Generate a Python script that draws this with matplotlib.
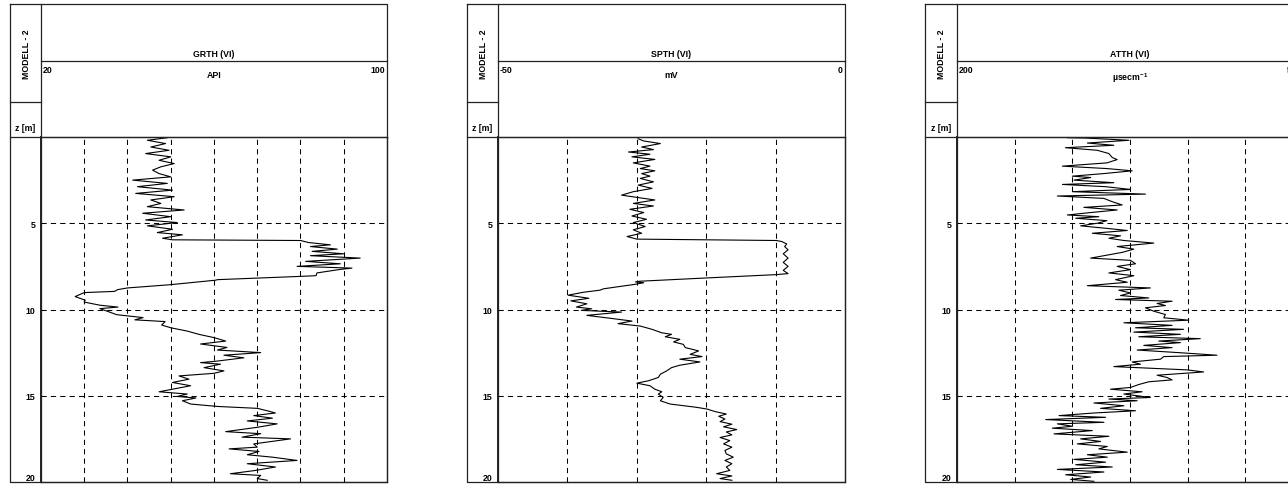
import numpy as np
import matplotlib
matplotlib.use("Agg")
import matplotlib.pyplot as plt

plt.rcParams['font.family'] = ['Liberation Sans', 'DejaVu Sans']
plt.rcParams['font.weight'] = 'bold'
plt.rcParams['mathtext.default'] = 'regular'

### log data (depth in m)

model_name = "MODELL - 2"
depth_label = "z [m]"
depth_ticks = [5, 10, 15, 20]

# gamma ray
grth_title = "GRTH (VI)"
grth_unit = "API"
grth_scale = [20, 100]
grth_depth = [0.04, 0.19, 0.38, 0.58, 0.77, 0.96, 1.15, 1.35, 1.54, 1.73,
              1.92, 2.12, 2.31, 2.50, 2.69, 2.88, 3.08, 3.27, 3.46, 3.65,
              3.85, 4.04, 4.23, 4.42, 4.62, 4.81, 4.96, 5.15, 5.35, 5.54,
              5.67, 5.87, 5.96, 6.00, 6.12, 6.25, 6.35, 6.50, 6.63, 6.77,
              6.88, 7.02, 7.21, 7.35, 7.50, 7.60, 7.69, 7.88, 8.04, 8.08,
              8.27, 8.30, 8.56, 8.75, 8.85, 8.95, 9.02, 9.25, 9.46, 9.57,
              9.75, 9.86, 9.95, 10.09, 10.30, 10.47, 10.60, 10.70, 10.90, 11.06,
              11.25, 11.44, 11.63, 11.83, 12.00, 12.20, 12.35, 12.50, 12.65, 12.80,
              13.00, 13.08, 13.17, 13.37, 13.56, 13.70, 13.85, 14.04, 14.23, 14.42,
              14.62, 14.77, 14.90, 15.04, 15.13, 15.29, 15.48, 15.62, 15.73, 15.87,
              16.00, 16.15, 16.30, 16.46, 16.63, 16.83, 17.08, 17.20, 17.40, 17.50,
              17.79, 17.98, 18.08, 18.23, 18.42, 18.56, 18.75, 18.94, 19.13, 19.33,
              19.52, 19.62, 19.80, 19.90]
grth_api = [49.2, 44.6, 48.8, 45.4, 49.6, 44.2, 50.0, 47.3, 50.8, 47.7,
            45.8, 47.3, 50.0, 41.2, 49.2, 42.3, 50.4, 41.9, 50.8, 45.4,
            47.7, 44.6, 53.1, 43.5, 50.0, 44.2, 51.5, 44.6, 50.4, 46.9,
            52.7, 48.1, 50.4, 80.0, 81.9, 86.9, 82.3, 88.5, 82.7, 90.0,
            82.3, 93.8, 81.2, 89.2, 79.2, 91.9, 88.8, 83.8, 83.6, 80.0,
            60.8, 60.4, 50.0, 40.0, 37.7, 37.0, 30.0, 27.9, 30.2, 30.0,
            33.6, 37.8, 33.6, 35.2, 37.5, 43.6, 41.7, 48.7, 47.9, 50.0,
            53.8, 56.5, 60.0, 62.7, 56.9, 63.0, 60.8, 70.8, 62.3, 66.9,
            60.4, 56.9, 61.5, 57.7, 62.3, 60.0, 51.9, 54.2, 50.4, 54.6,
            50.4, 47.3, 53.8, 51.5, 55.8, 52.7, 54.6, 60.8, 70.0, 72.3,
            74.2, 69.2, 73.5, 67.7, 74.6, 70.0, 62.7, 70.8, 66.5, 77.7,
            69.2, 70.0, 63.5, 70.4, 67.7, 73.5, 79.2, 67.7, 74.2, 69.6,
            63.8, 70.8, 70.0, 72.3]

# self potential
spth_title = "SPTH (VI)"
spth_unit = "mV"
spth_scale = [-50, 0]
spth_depth = [0.10, 0.23, 0.38, 0.58, 0.73, 0.87, 1.00, 1.15, 1.30, 1.50,
              1.69, 1.83, 1.96, 2.12, 2.27, 2.40, 2.60, 2.79, 2.98, 3.17,
              3.37, 3.50, 3.65, 3.85, 4.00, 4.19, 4.38, 4.58, 4.77, 4.96,
              5.19, 5.38, 5.58, 5.77, 5.92, 6.00, 6.06, 6.20, 6.35, 6.54,
              6.77, 7.02, 7.27, 7.50, 7.73, 7.92, 7.98, 8.17, 8.36, 8.40,
              8.45, 8.55, 8.80, 8.88, 9.00, 9.17, 9.35, 9.50, 9.67, 9.86,
              9.96, 10.05, 10.15, 10.34, 10.53, 10.67, 10.82, 10.96, 11.15, 11.35,
              11.44, 11.58, 11.73, 11.88, 12.02, 12.21, 12.40, 12.60, 12.73, 12.88,
              13.04, 13.23, 13.37, 13.56, 13.75, 13.94, 14.13, 14.27, 14.42, 14.62,
              14.77, 14.90, 15.10, 15.29, 15.48, 15.67, 15.77, 15.92, 16.06, 16.19,
              16.35, 16.50, 16.65, 16.80, 16.96, 17.10, 17.27, 17.42, 17.60, 17.79,
              17.98, 18.17, 18.37, 18.56, 18.75, 18.94, 19.13, 19.33, 19.52, 19.65,
              19.80, 19.90]
spth_mv = [-29.8, -29.0, -26.6, -29.3, -27.6, -31.2, -28.1, -30.7, -27.4, -30.5,
           -28.1, -29.5, -27.4, -29.3, -28.1, -29.5, -27.6, -29.8, -27.8, -30.5,
           -32.2, -30.0, -27.4, -30.5, -27.6, -31.0, -29.0, -30.7, -28.6, -30.5,
           -28.8, -30.5, -29.3, -31.4, -30.0, -9.9, -9.1, -8.4, -8.7, -8.2,
           -8.9, -8.2, -8.9, -8.2, -8.9, -8.2, -10.0, -19.9, -29.5, -30.2,
           -29.0, -30.4, -34.8, -35.3, -37.7, -39.9, -36.9, -39.5, -37.2, -38.7,
           -36.5, -38.0, -32.2, -37.2, -33.4, -30.7, -32.7, -29.5, -27.8, -26.4,
           -25.0, -25.9, -23.8, -24.7, -23.3, -23.0, -21.1, -22.3, -20.6, -23.8,
           -20.9, -23.8, -25.0, -25.7, -26.6, -26.9, -28.3, -30.0, -28.1, -27.4,
           -26.4, -26.9, -26.2, -26.6, -25.2, -21.4, -19.9, -18.7, -17.1, -18.2,
           -17.3, -18.0, -16.3, -17.5, -15.6, -17.1, -16.3, -18.0, -16.6, -17.5,
           -16.3, -17.3, -17.1, -16.1, -17.3, -16.3, -17.1, -16.6, -18.5, -16.3,
           -18.0, -16.3]

# attenuation
atth_title = "ATTH (VI)"
atth_unit = "\u00b5secm$^{-1}$"
atth_scale = [200, 500]
atth_depth = [0.04, 0.06, 0.19, 0.35, 0.48, 0.62, 0.77, 0.96, 1.19, 1.31,
              1.50, 1.69, 1.83, 1.96, 2.12, 2.27, 2.35, 2.50, 2.65, 2.75,
              2.88, 3.04, 3.17, 3.31, 3.42, 3.56, 3.75, 3.94, 4.08, 4.23,
              4.38, 4.52, 4.62, 4.71, 4.85, 5.00, 5.15, 5.29, 5.42, 5.58,
              5.73, 5.87, 6.00, 6.15, 6.35, 6.50, 6.69, 7.02, 7.15, 7.35,
              7.50, 7.69, 7.88, 8.04, 8.27, 8.42, 8.62, 8.75, 8.88, 9.04,
              9.19, 9.33, 9.42, 9.52, 9.65, 9.77, 9.90, 10.10, 10.29, 10.48,
              10.62, 10.77, 10.92, 11.06, 11.15, 11.31, 11.44, 11.58, 11.69, 11.83,
              11.92, 12.08, 12.21, 12.35, 12.50, 12.65, 12.73, 12.88, 13.04, 13.17,
              13.31, 13.50, 13.62, 13.81, 13.94, 14.08, 14.19, 14.35, 14.52, 14.62,
              14.77, 14.90, 15.10, 15.19, 15.29, 15.42, 15.58, 15.73, 15.87, 16.00,
              16.15, 16.25, 16.38, 16.54, 16.63, 16.77, 16.88, 17.02, 17.21, 17.35,
              17.50, 17.65, 17.79, 17.94, 18.08, 18.27, 18.42, 18.56, 18.69, 18.85,
              19.00, 19.13, 19.27, 19.42, 19.58, 19.71, 19.85, 19.96]
atth_val = [295.7, 311.5, 349.0, 313.0, 336.0, 294.0, 321.6, 331.7, 334.6, 338.9,
            330.0, 291.4, 330.0, 351.9, 327.4, 300.0, 315.9, 301.4, 336.0, 291.4,
            328.8, 350.4, 300.0, 363.4, 287.0, 327.4, 334.6, 343.2, 310.0, 338.9,
            315.9, 295.7, 323.0, 302.9, 330.0, 321.6, 307.2, 328.8, 347.6, 317.3,
            341.8, 331.7, 344.7, 370.6, 338.9, 353.3, 343.2, 315.9, 350.4, 354.8,
            338.9, 350.4, 331.7, 353.3, 337.5, 347.6, 313.0, 367.7, 340.3, 350.4,
            341.8, 366.3, 337.5, 386.5, 373.5, 380.7, 363.4, 370.6, 380.7, 379.3,
            400.9, 344.7, 386.5, 354.8, 396.5, 353.3, 393.7, 357.6, 410.9, 374.9,
            393.7, 362.0, 386.5, 356.2, 392.2, 425.4, 379.3, 376.4, 351.9, 359.1,
            336.0, 399.4, 413.8, 373.5, 382.1, 386.5, 366.3, 357.6, 350.4, 333.1,
            360.5, 344.7, 367.7, 331.7, 356.2, 318.7, 344.7, 324.5, 354.8, 318.7,
            288.5, 328.8, 276.9, 327.4, 287.0, 300.0, 282.7, 317.3, 284.1, 331.7,
            307.2, 324.5, 304.3, 330.3, 323.0, 347.6, 313.0, 330.3, 301.4, 328.8,
            302.9, 334.6, 287.0, 327.4, 294.2, 315.9, 298.6, 318.7]

### figure layout (pixels)
W, H = 1288, 485
TOP, DIV, HEAD, BOT = 5, 62, 138, 483
LEFT_DIV = 103
FS = 6.3


def px_box(x0, y0, x1, y1):
    return [x0 / W, 1 - y1 / H, (x1 - x0) / W, (y1 - y0) / H]


def draw_track(fig, x0, x1, x2, title, unit, scale, step, depth, values):
    # frame with header boxes
    fr = fig.add_axes(px_box(x0, TOP, x2, BOT))
    fr.set_xlim(x0, x2)
    fr.set_ylim(BOT, TOP)
    fr.axis('off')
    kw = dict(color='#222222', lw=0.9, clip_on=False)
    fr.plot([x0, x2, x2, x0, x0], [TOP, TOP, BOT, BOT, TOP], **kw)
    fr.plot([x1, x1], [TOP, BOT], **kw)
    fr.plot([x1, x2], [DIV, DIV], **kw)
    fr.plot([x0, x1], [LEFT_DIV, LEFT_DIV], **kw)
    fr.plot([x0, x2], [HEAD, HEAD], **kw)

    xc = (x1 + x2) / 2
    fr.text(xc, DIV - 3, title, ha='center', va='bottom', fontsize=FS)
    fr.text(x1 + 2, DIV + 4, str(scale[0]), ha='left', va='top', fontsize=FS)
    fr.text(x2 - 2, DIV + 4, str(scale[1]), ha='right', va='top', fontsize=FS)
    fr.text(xc, DIV + 9, unit, ha='center', va='top', fontsize=FS)
    fr.text((x0 + x1) / 2 + 1, (TOP + LEFT_DIV) / 2, model_name, ha='center',
            va='center', rotation=90, fontsize=FS)
    fr.text((x0 + x1) / 2, HEAD - 10, depth_label, ha='center', va='center',
            fontsize=FS)

    # log curve
    ax = fig.add_axes(px_box(x1, HEAD, x2, BOT))
    ax.plot(values, depth, color='black', lw=0.8)
    ax.set_xlim(scale[0], scale[1])
    ax.set_ylim(20, 0)
    ax.set_xticks(np.arange(scale[0] + step, scale[1], step))
    ax.set_yticks(depth_ticks)
    ax.set_yticklabels([str(t) for t in depth_ticks])
    ax.tick_params(length=0, labelbottom=False, labelsize=FS, pad=4)
    ax.get_yticklabels()[-1].set_va('bottom')
    ax.grid(True, color='black', lw=0.75, linestyle=(0, (5, 4)))
    for sp in ax.spines.values():
        sp.set_linewidth(0.9)
        sp.set_color('#222222')
    ax.spines['left'].set_linewidth(1.4)
    ax.patch.set_alpha(0)
    return ax


fig = plt.figure(figsize=(W / 100, H / 100), dpi=100)

draw_track(fig, 10, 41, 387, grth_title, grth_unit, grth_scale, 10, grth_depth, grth_api)
draw_track(fig, 467, 498, 845, spth_title, spth_unit, spth_scale, 10, spth_depth, spth_mv)
draw_track(fig, 925, 957, 1303, atth_title, atth_unit, atth_scale, 50, atth_depth, atth_val)

fig.savefig("out.png", dpi=100)
